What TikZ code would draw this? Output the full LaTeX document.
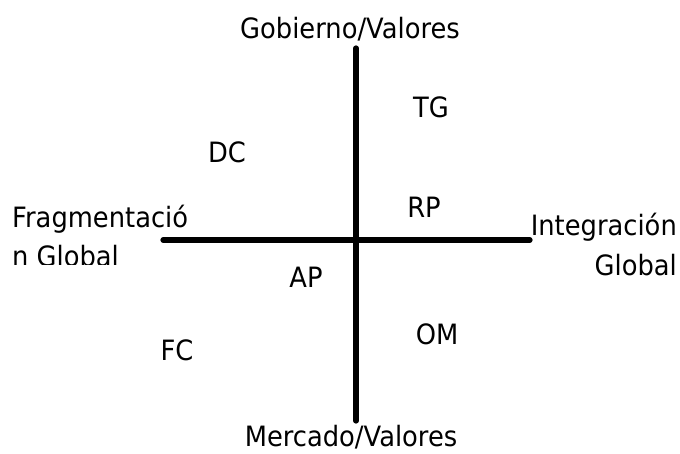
\documentclass[tikz,border=0pt]{standalone}
\usepackage{fontspec}
\setmainfont[FakeStretch=0.92]{DejaVu Sans}
\begin{document}
\begin{tikzpicture}[x=1pt,y=-1pt,
  axis/.style={line width=5.2pt,line cap=round},
  lbl/.style={inner sep=0pt,font=\fontsize{28}{40}\selectfont,anchor=base}]
\useasboundingbox (0,0) rectangle (680,453);
\coordinate (vt) at (356,48);
\coordinate (vb) at (356,421);
\coordinate (hl) at (163,240);
\coordinate (hr) at (530,240);
\draw[axis] (vt) -- (vb);
\draw[axis] (hl) -- (hr);
\node[lbl] (gob) at (350,38) {Gobierno/Valores};
\node[lbl] (mer) at (351,446) {Mercado/Valores};
\node[lbl,anchor=base west] (frag1) at (12,227) {Fragmentació};
\begin{scope}
\clip (0,230) rectangle (220,264);
\node[lbl,anchor=base west] (frag2) at (12,266) {n Global};
\end{scope}
\node[lbl,anchor=base east] (int1) at (677,235) {Integración};
\node[lbl,anchor=base east] (int2) at (677,275) {Global};
\node[lbl] (tg) at (431,117) {TG};
\node[lbl] (dc) at (227,162) {DC};
\node[lbl] (rp) at (424,217) {RP};
\node[lbl] (ap) at (306,287) {AP};
\node[lbl] (om) at (437,344) {OM};
\node[lbl] (fc) at (177,360) {FC};
\end{tikzpicture}
\end{document}
